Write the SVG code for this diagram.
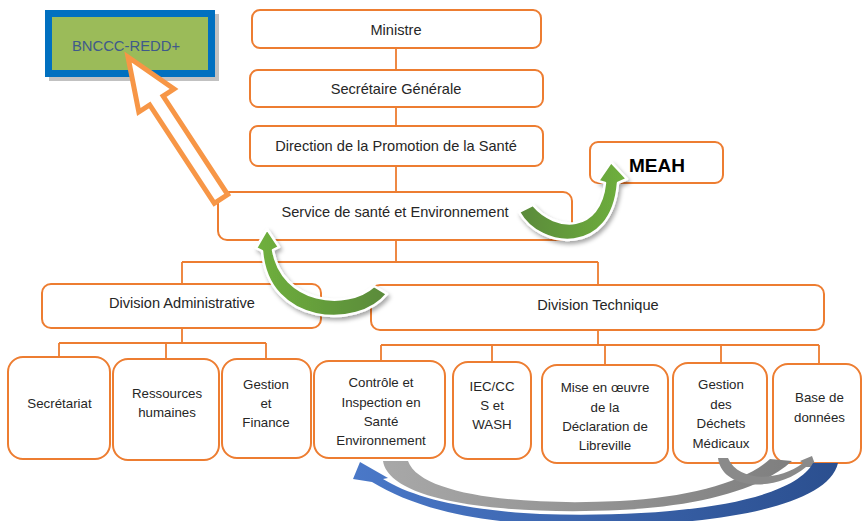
<svg xmlns="http://www.w3.org/2000/svg" width="862" height="521" viewBox="0 0 862 521">
<defs>
<style>
.box{fill:#fff;stroke:#ed7d31;stroke-width:2}
.ln{fill:none;stroke:#ed7d31;stroke-width:1.8}
.t{font-family:"Liberation Sans",Arial,sans-serif;font-size:14.6px;fill:#262626;text-anchor:middle}
.s{font-family:"Liberation Sans",Arial,sans-serif;font-size:13.3px;fill:#262626;text-anchor:middle}
.garrow{fill:url(#gg);stroke:#fff;stroke-width:2.5;stroke-linejoin:round;filter:url(#sh)}
</style>
<linearGradient id="gg" x1="0" y1="0" x2="1" y2="0">
<stop offset="0" stop-color="#5a8a3a"/><stop offset="1" stop-color="#6fb03c"/>
</linearGradient>
<linearGradient id="gg2" x1="1" y1="0" x2="0" y2="0">
<stop offset="0" stop-color="#5a8a3a"/><stop offset="1" stop-color="#6fb03c"/>
</linearGradient>
<linearGradient id="blue" x1="1" y1="0" x2="0" y2="0">
<stop offset="0" stop-color="#2b4f8f"/><stop offset="1" stop-color="#4a78c8"/>
</linearGradient>
<linearGradient id="gray" x1="0" y1="0" x2="1" y2="0">
<stop offset="0" stop-color="#a8a8a8"/><stop offset="1" stop-color="#7f7f7f"/>
</linearGradient>
<filter id="sh" x="-30%" y="-30%" width="160%" height="160%">
<feDropShadow dx="2" dy="3" stdDeviation="2" flood-color="#000" flood-opacity="0.35"/>
</filter>
</defs>
<rect width="862" height="521" fill="#fff"/>

<g id="connectors">
<path class="ln" d="M396 48V70M396 107V126M396 166V192M396 240V262M182 262H598M182 262V284M598 262V285"/>
<path class="ln" d="M182 328V343M59 343H266M59 343V357M166 343V359M266 343V359"/>
<path class="ln" d="M598 330V345M381 345H819M381 345V361M492 345V362M605 345V365M721 345V363M819 345V364"/>
</g>

<g id="bnccc">
<rect x="49" y="14" width="170" height="67" fill="#a6a6a6" opacity="0.7"/>
<rect x="48.5" y="13.5" width="163" height="60" fill="#9bbb59" stroke="#0070c0" stroke-width="7"/>
<text x="126" y="51" font-family="Liberation Sans,Arial,sans-serif" font-size="14.8" fill="#3f5a8a" text-anchor="middle">BNCCC-REDD+</text>
</g>
<g id="ministre"><rect class="box" x="252" y="10" width="289" height="38" rx="8"/><text class="t" x="396" y="35">Ministre</text></g>
<g id="sg"><rect class="box" x="250" y="70" width="293" height="37" rx="8"/><text class="t" x="396" y="94">Secrétaire Générale</text></g>
<g id="direction"><rect class="box" x="250" y="126" width="293" height="40" rx="8"/><text class="t" x="396" y="151">Direction de la Promotion de la Santé</text></g>
<g id="service"><rect class="box" x="218" y="192" width="354" height="48" rx="9"/><text class="t" x="395" y="217">Service de santé et Environnement</text></g>
<g id="meah"><rect class="box" x="590" y="142" width="133" height="41" rx="8"/><text x="657" y="172" font-family="Liberation Sans,Arial,sans-serif" font-size="19" font-weight="bold" fill="#000" text-anchor="middle">MEAH</text></g>
<g id="div-admin"><rect class="box" x="42" y="284" width="279" height="44" rx="9"/><text class="t" x="182" y="308">Division Administrative</text></g>
<g id="div-tech"><rect class="box" x="371" y="285" width="453" height="45" rx="9"/><text class="t" x="598" y="310">Division Technique</text></g>

<g id="secretariat"><rect class="box" x="8" y="357" width="102" height="102" rx="15"/><text class="s" x="59.5" y="408">Secrétariat</text></g>
<g id="rh"><rect class="box" x="113" y="359" width="106" height="101" rx="15"/><text class="s" x="167" y="398">Ressources</text><text class="s" x="167" y="417">humaines</text></g>
<g id="gf"><rect class="box" x="222" y="359" width="89" height="99" rx="15"/><text class="s" x="266" y="389">Gestion</text><text class="s" x="266" y="408">et</text><text class="s" x="266" y="427">Finance</text></g>
<g id="controle"><rect class="box" x="314" y="361" width="131" height="97" rx="15"/><text class="s" x="381" y="387">Contrôle et</text><text class="s" x="381" y="407">Inspection en</text><text class="s" x="381" y="426">Santé</text><text class="s" x="381" y="445">Environnement</text></g>
<g id="iec"><rect class="box" x="453" y="362" width="78" height="97" rx="15"/><text class="s" x="492" y="391">IEC/CC</text><text class="s" x="492" y="410">S et</text><text class="s" x="492" y="429">WASH</text></g>
<g id="mise"><rect class="box" x="542" y="365" width="126" height="98" rx="15"/><text class="s" x="605" y="392">Mise en œuvre</text><text class="s" x="605" y="412">de la</text><text class="s" x="605" y="431">Déclaration de</text><text class="s" x="605" y="450">Libreville</text></g>
<g id="dechets"><rect class="box" x="673" y="363" width="94" height="100" rx="15"/><text class="s" x="721" y="389">Gestion</text><text class="s" x="721" y="409">des</text><text class="s" x="721" y="428">Déchets</text><text class="s" x="721" y="448">Médicaux</text></g>
<g id="base"><rect class="box" x="773" y="364" width="88" height="99" rx="15"/><text class="s" x="819.5" y="402">Base de</text><text class="s" x="819.5" y="422">données</text></g>

<g id="arrows">
<polygon points="128,57 174,89 163.1,96.1 227.7,194.6 214.3,203.4 149.7,104.9 138.8,112" fill="#fff" stroke="#f79646" stroke-width="5" stroke-linejoin="miter"/>
<path class="garrow" d="M519 212 C540 250 612 257 618 183 L627 179 L611 162 L598 181 L605 183 C600 233 556 232 533 205 Z"/>
<path class="garrow" style="fill:url(#gg2)" d="M387 294 C358 330 268 326 262 251 L256 248 L267 229 L279 247 L273 250 C282 303 346 311 374 286 Z"/>
<path fill="url(#gray)" d="M383 461 C390 505 520 515 620 510 C700 506 760 490 792 461 L770 459 C745 482 690 497 620 501 C520 506 420 495 408 461 Z"/>
<path fill="#8a8a8a" d="M718 458 C722 490 775 493 806 467 L816 467 L812 456 L800 461 L803 463 C778 482 738 482 728 458 Z"/>
<path fill="url(#blue)" d="M838 463 C825 520 640 532 520 523 C450 517 405 502 372 482 L353 479 L360 462 L388 478 L383 479 C412 497 462 510 540 514 C660 518 790 505 813 463 Z"/>
</g>
</svg>
